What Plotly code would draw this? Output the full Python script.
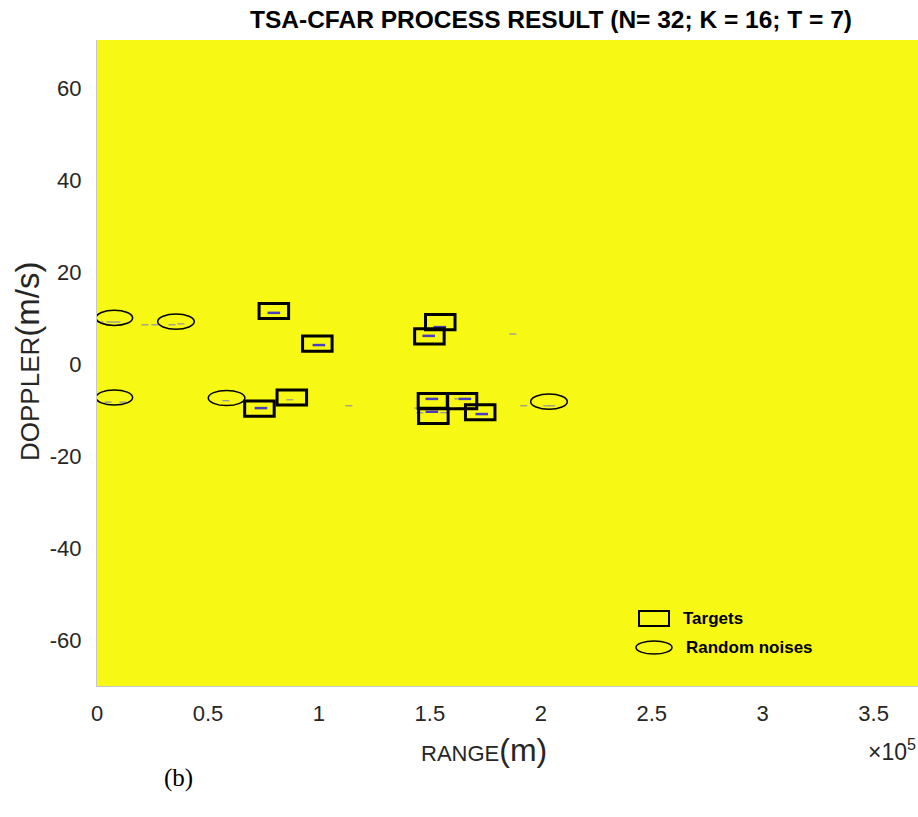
import plotly.graph_objects as go

# ---- data ----
target_range = [79700, 99300, 73200, 87800, 154700, 149800, 151400, 164500, 151600, 172700]
target_doppler = [11.5, 4.4, -9.7, -7.3, 9.1, 6.0, -8.1, -8.1, -11.3, -10.5]

noise_range = [7800, 35600, 7800, 58400, 203700]
noise_doppler = [10.0, 9.2, -7.3, -7.4, -8.2]

det_range = [79700, 100000, 73900, 86900, 154500, 149500, 150900, 162600, 165800,
             150900, 145500, 156300, 173400, 144600, 148200, 163500, 168000,
             1400, 5900, 9000, 21600, 26100, 33800, 37800,
             5000, 11700, 58100, 113500, 192300, 202700, 205000, 187400]
det_doppler = [11.1, 4.1, -9.6, -7.8, 8.0, 6.1, -7.6, -7.6, -7.6,
               -10.4, -10.6, -10.6, -10.9, -9.6, -9.6, -9.6, -9.6,
               9.1, 9.1, 9.1, 8.5, 8.5, 8.5, 8.7,
               -8.3, -8.3, -8.0, -9.1, -9.1, -9.1, -9.1, 6.5]
det_level = ["s", "s", "s", "w", "s", "s", "s", "w", "s",
             "s", "w", "w", "s", "w", "w", "w", "w",
             "w", "w", "w", "w", "w", "w", "w",
             "w", "w", "w", "w", "w", "w", "w", "w"]

x_ticks = [0, 50000, 100000, 150000, 200000, 250000, 300000, 350000]
x_tick_labels = ["0", "0.5", "1", "1.5", "2", "2.5", "3", "3.5"]
y_ticks = [-60, -40, -20, 0, 20, 40, 60]
y_tick_labels = ["-60", "-40", "-20", "0", "20", "40", "60"]

rect_w, rect_h = 13300, 3.3
ell_w, ell_h = 16500, 3.3

YELLOW = "#f8f815"
FONT = "Liberation Sans, Arial"
fig = go.Figure()

strong_r = [r for r, l in zip(det_range, det_level) if l == "s"]
strong_d = [d for d, l in zip(det_doppler, det_level) if l == "s"]
weak_r = [r for r, l in zip(det_range, det_level) if l == "w"]
weak_d = [d for d, l in zip(det_doppler, det_level) if l == "w"]

fig.add_trace(go.Scatter(x=weak_r, y=weak_d, mode="markers", showlegend=False,
                         marker=dict(symbol="line-ew", size=5, line=dict(color="#9090a8", width=1.2))))
fig.add_trace(go.Scatter(x=strong_r, y=strong_d, mode="markers", showlegend=False,
                         marker=dict(symbol="line-ew", size=9, line=dict(color="#4a3cc0", width=2.5))))

shapes = []
for r, d in zip(target_range, target_doppler):
    shapes.append(dict(type="rect", xref="x", yref="y", x0=r - rect_w / 2, x1=r + rect_w / 2,
                       y0=d - rect_h / 2, y1=d + rect_h / 2, line=dict(color="black", width=3)))
for r, d in zip(noise_range, noise_doppler):
    shapes.append(dict(type="circle", xref="x", yref="y", x0=r - ell_w / 2, x1=r + ell_w / 2,
                       y0=d - ell_h / 2, y1=d + ell_h / 2, line=dict(color="black", width=1.5)))

# legend (paper coords inside plot)
def px(x):
    return (x - 97) / 821
def py(y):
    return (686 - y) / 646

shapes.append(dict(type="rect", xref="paper", yref="paper", x0=px(639), x1=px(669),
                   y0=py(626), y1=py(611), line=dict(color="black", width=2)))
shapes.append(dict(type="circle", xref="paper", yref="paper", x0=px(636), x1=px(672),
                   y0=py(654), y1=py(641), line=dict(color="black", width=1.5)))

annotations = [
    dict(text="Targets", xref="paper", yref="paper", x=px(681), y=py(618), xanchor="left",
         yanchor="middle", showarrow=False, font=dict(family=FONT, size=17, color="black", weight="bold")),
    dict(text="Random noises", xref="paper", yref="paper", x=px(684), y=py(647), xanchor="left",
         yanchor="middle", showarrow=False, font=dict(family=FONT, size=17, color="black", weight="bold")),
    dict(text="×10<sup>5</sup>", xref="paper", yref="paper", x=1.0, y=py(750), xanchor="right",
         yanchor="middle", showarrow=False, font=dict(family=FONT, size=23, color="#262626")),
    dict(text="RANGE<span style='font-size:32px'>(m)</span>", xref="paper", yref="paper", x=px(484), y=py(750),
         xanchor="center", yanchor="middle", showarrow=False,
         font=dict(family=FONT, size=22, color="#262626")),
    dict(text="DOPPLER<span style='font-size:33px'>(m/s)</span>", xref="paper", yref="paper", x=px(27), y=py(362),
         xanchor="center", yanchor="middle", textangle=-90, showarrow=False,
         font=dict(family=FONT, size=26, color="#262626")),
    dict(text="(b)", xref="paper", yref="paper", x=px(178), y=py(778), xanchor="center", yanchor="middle",
         showarrow=False, font=dict(family="Liberation Serif, Times New Roman", size=25, color="black")),
    dict(text="TSA-CFAR PROCESS RESULT (N= 32; K = 16; T = 7)", xref="paper", yref="paper", x=px(551), y=py(19),
         xanchor="center", yanchor="middle", showarrow=False,
         font=dict(family=FONT, size=24.5, color="black", weight="bold")),
]

fig.update_layout(
    width=918, height=817,
    margin=dict(l=97, r=0, t=40, b=131),
    paper_bgcolor="white", plot_bgcolor=YELLOW,
    shapes=shapes, annotations=annotations, showlegend=False,
    xaxis=dict(range=[0, 370000], tickvals=x_ticks, ticktext=x_tick_labels, showgrid=False, zeroline=False,
               showline=True, linecolor="#c8c8c8", ticks="", ticklabelstandoff=8,
               tickfont=dict(family=FONT, size=22, color="#262626")),
    yaxis=dict(range=[-70, 70.4], tickvals=y_ticks, ticktext=y_tick_labels, showgrid=False, zeroline=False,
               showline=True, linecolor="#c8c8c8", ticks="", ticklabelstandoff=10,
               tickfont=dict(family=FONT, size=22, color="#262626")),
)

fig.write_html("out.html")
